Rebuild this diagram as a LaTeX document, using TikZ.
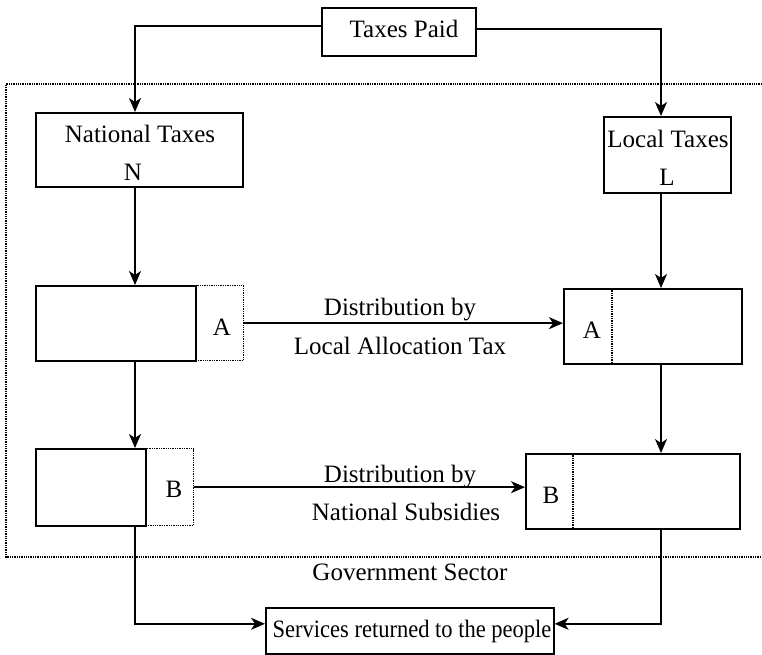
\documentclass[tikz,border=0pt]{standalone}
\usepackage{fontspec}
\usepackage{graphicx}
\setmainfont{Liberation Serif}
\usetikzlibrary{arrows.meta}
\begin{document}
\begin{tikzpicture}[x=1pt,y=-1pt,
  every node/.style={font=\fontsize{25}{30}\selectfont},
  solidbox/.style={draw,line width=1.6pt,inner sep=0pt,anchor=north west},
  dotbox/.style={draw,line width=1.3pt,densely dotted,inner sep=0pt,anchor=north west},
  txt/.style={anchor=base,inner sep=0pt},
  arr/.style={line width=1.6pt,-{Stealth[length=14pt,width=12pt,inset=4pt]}},
  dotline/.style={line width=1.3pt,densely dotted}]
\useasboundingbox (0,0) rectangle (762,654);
% government sector
\draw[dotline] (762,84) -- (6,84) -- (6,557) -- (762,557);
% column coordinates
\coordinate (colL) at (135,0);
\coordinate (colR) at (661,0);
% boxes
\node[solidbox,minimum width=154pt,minimum height=48pt] (tp) at (321,7) {};
\node[solidbox,minimum width=207pt,minimum height=74pt] (nt) at (35,112) {};
\node[solidbox,minimum width=127pt,minimum height=76pt] (lt) at (603,116) {};
\node[dotbox,minimum width=48pt,minimum height=75pt] (a1x) at (195,285) {};
\node[solidbox,minimum width=160pt,minimum height=75pt] (a1) at (35,285) {};
\node[solidbox,minimum width=178pt,minimum height=75pt] (a2) at (563,288) {};
\draw[dotline] ([xshift=49pt]a2.north west) -- ([xshift=49pt]a2.south west);
\node[dotbox,minimum width=48pt,minimum height=77pt] (b1x) at (145,448) {};
\node[solidbox,minimum width=110pt,minimum height=77pt] (b1) at (35,448) {};
\node[solidbox,minimum width=214pt,minimum height=75pt] (b2) at (525,453) {};
\draw[dotline] ([xshift=48pt]b2.north west) -- ([xshift=48pt]b2.south west);
\node[solidbox,minimum width=288pt,minimum height=46pt] (sv) at (265,607) {};
% texts
\node[txt] (tpt) at (404,37) {Taxes Paid};
\node[txt] (ntt) at (140,142) {National Taxes};
\node[txt] (ntn) at (133,180) {N};
\node[txt] (ltt) at (668,147) {Local Taxes};
\node[txt] (ltl) at (667,185) {L};
\node[txt] (a1l) at (222,335) {A};
\node[txt] (a2l) at (592,338) {A};
\node[txt] (b1l) at (174,497) {B};
\node[txt] (b2l) at (551,503) {B};
\node[txt] (d1) at (400,315) {Distribution by};
\node[txt] (d1b) at (400,354) {Local Allocation Tax};
\node[txt] (d2) at (400,482) {Distribution by};
\node[txt] (d2b) at (406,520) {National Subsidies};
\node[txt] (gs) at (410,580) {Government Sector};
\node[txt] (svt) at (412,637) {\scalebox{0.9}[1]{Services returned to the people}};
% connectors
\draw[arr] ([yshift=6pt]tp.west) -| (nt.north -| colL);
\draw[arr] ([yshift=3pt]tp.east) -| (lt.north -| colR);
\draw[arr] (nt.south -| colL) -- (a1.north -| colL);
\draw[arr] (lt.south -| colR) -- (a2.north -| colR);
\draw[arr] (a1.south -| colL) -- (b1.north -| colL);
\draw[arr] (a2.south -| colR) -- (b2.north -| colR);
\draw[arr] (a1x.east) -- (a1x.east -| a2.west);
\draw[arr] (b1x.east) -- (b1x.east -| b2.west);
\draw[arr] (b1.south -| colL) |- ([yshift=7pt]sv.west);
\draw[arr] (b2.south -| colR) |- ([yshift=7pt]sv.east);
\end{tikzpicture}
\end{document}
